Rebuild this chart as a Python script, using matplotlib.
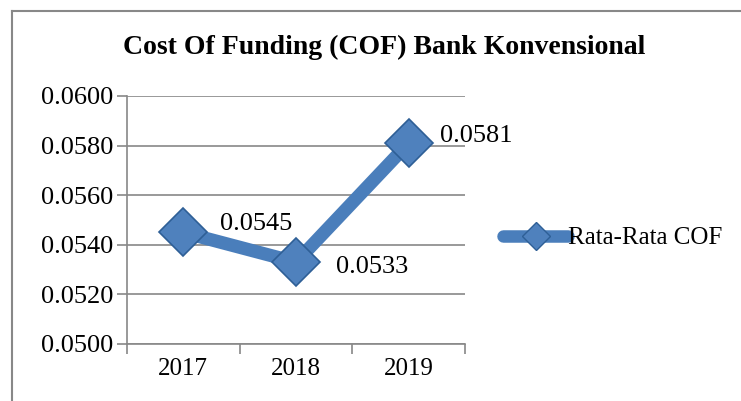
import matplotlib
matplotlib.use("Agg")
import matplotlib.pyplot as plt
from matplotlib.lines import Line2D

plt.rcParams['font.family'] = ['Liberation Serif', 'DejaVu Serif']

years = ['2017', '2018', '2019']
cof = [0.0545, 0.0533, 0.0581]
labels = ['0.0545', '0.0533', '0.0581']
yticks = [0.0500, 0.0520, 0.0540, 0.0560, 0.0580, 0.0600]

fig = plt.figure(figsize=(7.41, 4.01), dpi=100)
ax = fig.add_axes([127 / 741, 57 / 401, 338 / 741, 248 / 401])

x = [0, 1, 2]
ax.plot(x, cof, color='#4A7EBB', linewidth=9.5, solid_capstyle='round',
        solid_joinstyle='round', zorder=3)
ax.plot(x, cof, linestyle='none', marker='D', markersize=24,
        markerfacecolor='#4F81BD', markeredgecolor='#2E5F96',
        markeredgewidth=1.2, zorder=4)

# data labels
offsets = [(0.65, 0.00035), (0.68, -0.0002), (0.6, 0.00028)]
for xi, yi, lab, (dx, dy) in zip(x, cof, labels, offsets):
    ax.text(xi + dx, yi + dy, lab, fontsize=19, ha='center', va='center')

ax.set_xlim(-0.5, 2.5)
ax.set_ylim(0.0500, 0.0600)
ax.set_yticks(yticks)
ax.set_yticklabels([f'{v:.4f}' for v in yticks], fontsize=19)
ax.set_xticks(x)
ax.set_xticklabels(years, fontsize=18)
ax.set_xticks([-0.5, 0.5, 1.5, 2.5], minor=True)
ax.tick_params(axis='x', which='major', length=0, pad=10)
ax.tick_params(axis='x', which='minor', length=7, color='#888888', width=1.2)
ax.tick_params(axis='y', length=7, color='#888888', width=1.2, pad=3)

ax.grid(axis='y', color='#888888', linewidth=1.2)
ax.set_axisbelow(True)
for side in ['top', 'right']:
    ax.spines[side].set_visible(False)
for side in ['left', 'bottom']:
    ax.spines[side].set_color('#888888')
    ax.spines[side].set_linewidth(1.2)

fig.text(384 / 741, 1 - 47 / 401, 'Cost Of Funding (COF) Bank Konvensional',
         fontsize=20, fontweight='bold', ha='center', va='center')

# legend
handle = Line2D([], [], color='#4A7EBB', linewidth=9, marker='D', markersize=14,
                markerfacecolor='#4F81BD', markeredgecolor='#2E5F96',
                solid_capstyle='round')
fig.legend([handle], ['Rata-Rata COF'], loc='center left',
           bbox_to_anchor=(503 / 741, 1 - 238 / 401), frameon=False,
           fontsize=18, handlelength=2.6, handletextpad=0.0,
           borderaxespad=0, borderpad=0)

# chart border (continues past the cropped edge)
fig.add_artist(Line2D([12 / 741, 12 / 741], [0, 1 - 11 / 401],
                      color='#888888', linewidth=1.5, transform=fig.transFigure))
fig.add_artist(Line2D([12 / 741, 1], [1 - 11 / 401, 1 - 11 / 401],
                      color='#888888', linewidth=1.5, transform=fig.transFigure))

fig.savefig('out.png', dpi=100)
